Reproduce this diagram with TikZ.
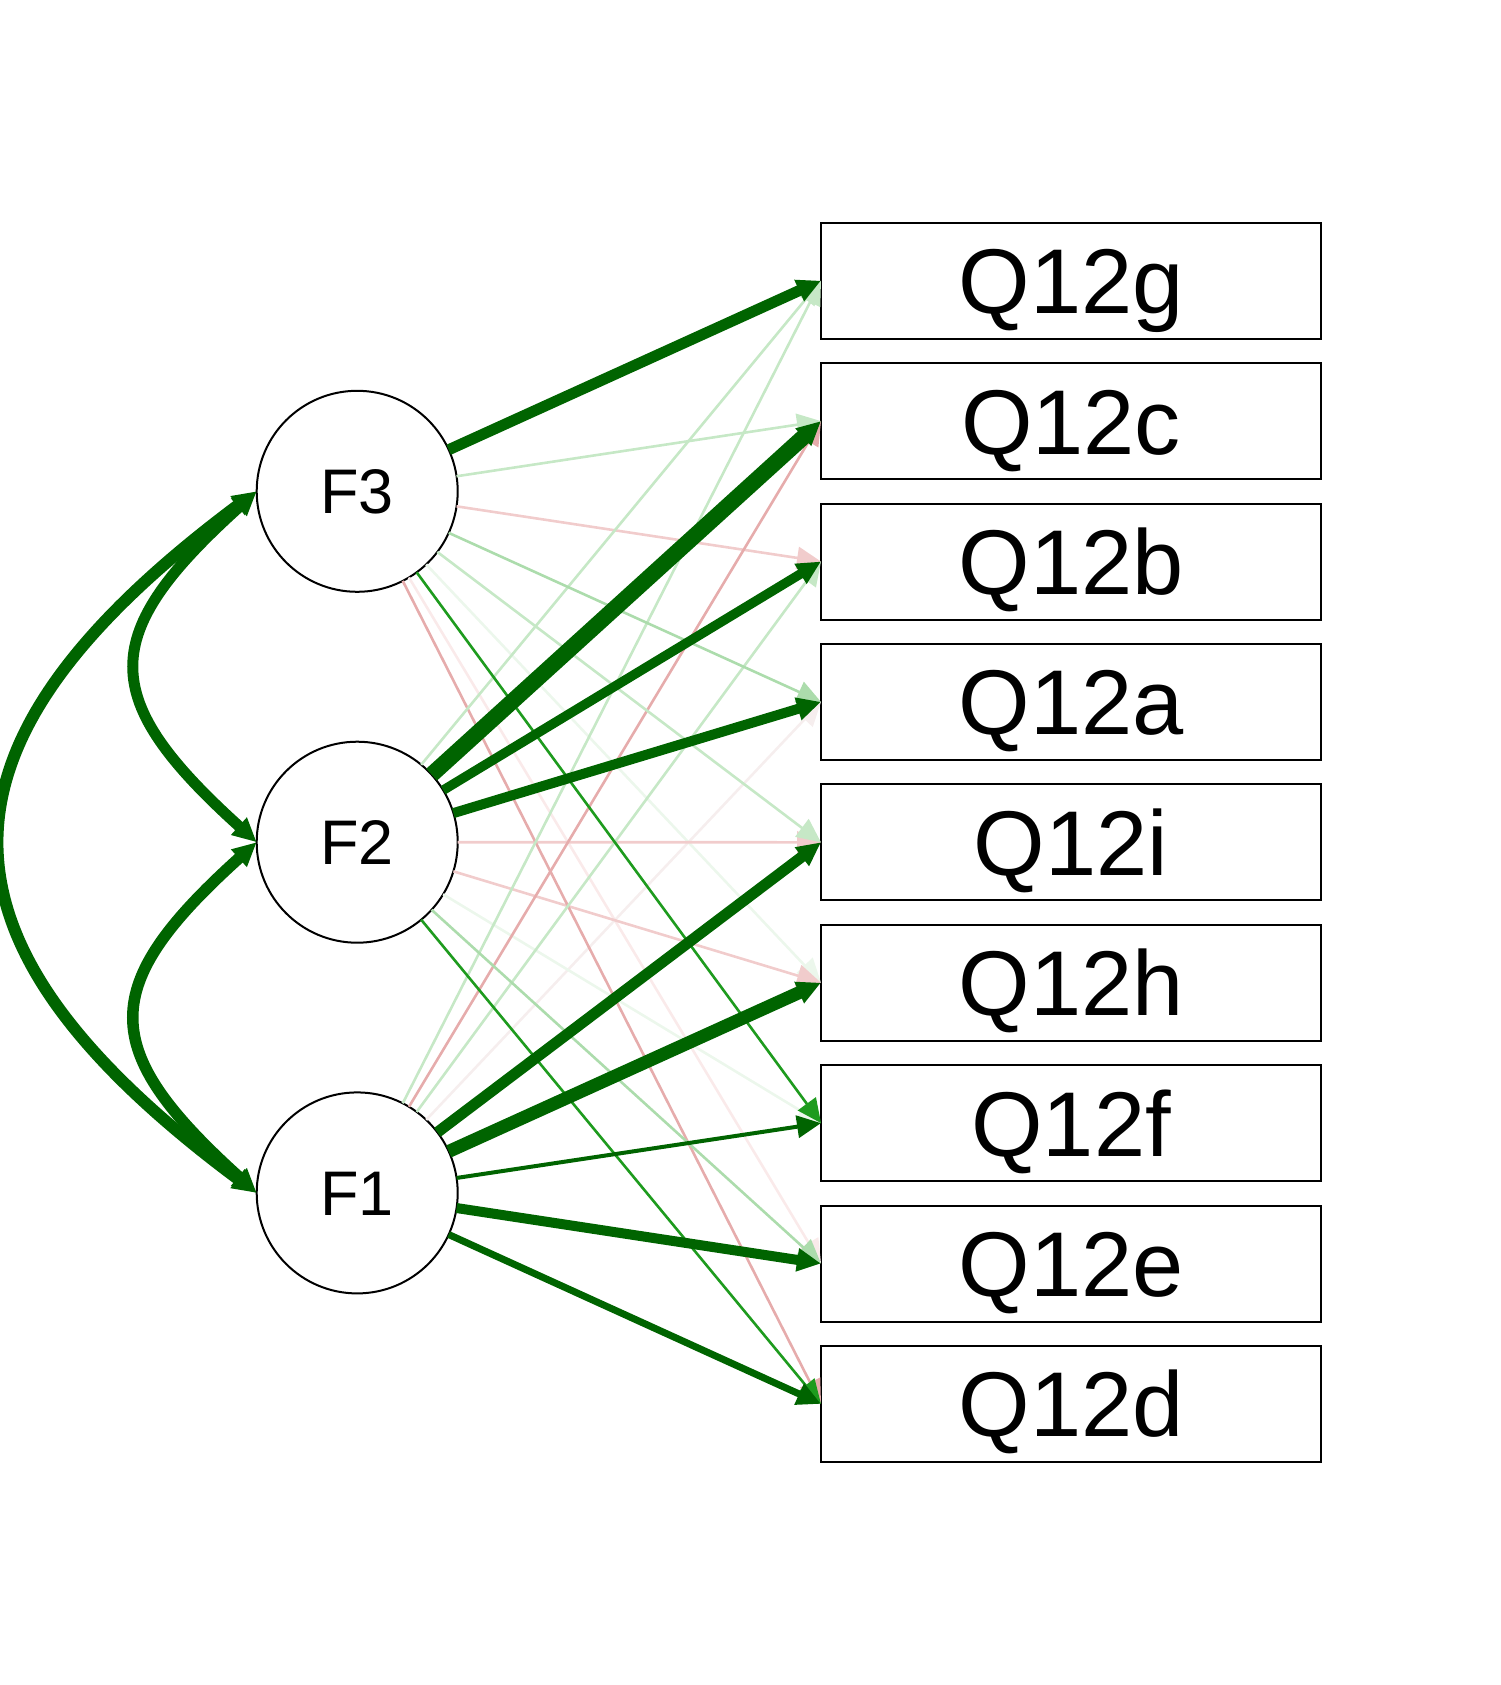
\documentclass[tikz,border=0pt]{standalone}
\usepackage{fontspec}
\setmainfont{Liberation Sans}
\usetikzlibrary{arrows.meta}

% edge colours: strong, medium and faded positive loadings; faded negative ones
\definecolor{posdark}{RGB}{0,100,0}
\definecolor{posmid}{RGB}{30,155,30}
\definecolor{posA}{RGB}{172,220,172}
\definecolor{posB}{RGB}{198,232,198}
\definecolor{posC}{RGB}{236,247,236}
\definecolor{negA}{RGB}{230,172,172}
\definecolor{negB}{RGB}{241,204,204}
\definecolor{negC}{RGB}{250,234,234}
\definecolor{negD}{RGB}{246,238,238}

\begin{document}
\begin{tikzpicture}[x=0.5pt,y=-0.5pt,
  latent/.style={circle,draw=black,fill=white,line width=1pt,minimum size=100.5pt,
    inner sep=0pt,outer sep=0pt,font=\fontsize{31.5}{34}\selectfont,
    text height=22.6pt,text depth=0pt},
  item/.style={rectangle,draw=black,fill=white,line width=1pt,minimum width=250pt,
    minimum height=58pt,inner sep=0pt,outer sep=0pt,font=\fontsize{46}{50}\selectfont,
    text height=33pt,text depth=0pt},
  load/.style={-{Triangle[length=12pt,width=11pt]}},
  cov/.style={{Triangle[length=12pt,width=11pt]}-{Triangle[length=12pt,width=11pt]},draw=posdark},
  thin/.style={line width=1.3pt}]
\useasboundingbox (0,0) rectangle (1500,1685);

% observed items
\node[item] (qg) at (1071,280.7) {Q12g};
\node[item] (qc) at (1071,421.1) {Q12c};
\node[item] (qb) at (1071,561.5) {Q12b};
\node[item] (qa) at (1071,701.9) {Q12a};
\node[item] (qi) at (1071,842.3) {Q12i};
\node[item] (qh) at (1071,982.7) {Q12h};
\node[item] (qf) at (1071,1123.1) {Q12f};
\node[item] (qe) at (1071,1263.5) {Q12e};
\node[item] (qd) at (1071,1403.9) {Q12d};

% latent factors
\node[latent] (F3) at (357.2,491.3) {F3};
\node[latent] (F2) at (357.2,842.2) {F2};
\node[latent] (F1) at (357.2,1192.9) {F1};

% faint loadings
\draw[load,thin,draw=negC] (F3) -- (qe.west);
\draw[load,thin,draw=negD] (F1) -- (qa.west);
\draw[load,thin,draw=posC] (F3) -- (qh.west);
\draw[load,thin,draw=posC] (F2) -- (qf.west);
\draw[load,thin,draw=negB] (F3) -- (qb.west);
\draw[load,thin,draw=negB] (F2) -- (qi.west);
\draw[load,thin,draw=negB] (F2) -- (qh.west);
\draw[load,thin,draw=negA] (F3) -- (qd.west);
\draw[load,thin,draw=negA] (F1) -- (qc.west);
\draw[load,thin,draw=posB] (F3) -- (qc.west);
\draw[load,thin,draw=posB] (F3) -- (qi.west);
\draw[load,thin,draw=posB] (F2) -- (qg.west);
\draw[load,thin,draw=posB] (F1) -- (qg.west);
\draw[load,thin,draw=posB] (F1) -- (qb.west);
\draw[load,thin,draw=posA] (F3) -- (qa.west);
\draw[load,thin,draw=posA] (F2) -- (qe.west);

% medium loadings
\draw[load,thin,draw=posmid] (F3) -- (qf.west);
\draw[load,thin,draw=posmid] (F2) -- (qd.west);

% strong loadings
\draw[load,draw=posdark,line width=2pt] (F1) -- (qf.west);
\draw[load,draw=posdark,line width=3.5pt] (F1) -- (qd.west);
\draw[load,draw=posdark,line width=5pt] (F1) -- (qe.west);
\draw[load,draw=posdark,line width=5.5pt] (F1) -- (qi.west);
\draw[load,draw=posdark,line width=6.5pt] (F1) -- (qh.west);
\draw[load,draw=posdark,line width=4.75pt] (F2) -- (qb.west);
\draw[load,draw=posdark,line width=5pt] (F2) -- (qa.west);
\draw[load,draw=posdark,line width=8pt] (F2) -- (qc.west);
\draw[load,draw=posdark,line width=5.5pt] (F3) -- (qg.west);

% factor covariances
\draw[cov,line width=5.5pt] (F3.west) .. controls (97,635) and (97,698) .. (F2.west);
\draw[cov,line width=5.75pt] (F2.west) .. controls (97,986) and (97,1049) .. (F1.west);
\draw[cov,line width=6pt] (F3.west) .. controls (-83,745) and (-83,940) .. (F1.west);
\end{tikzpicture}
\end{document}
